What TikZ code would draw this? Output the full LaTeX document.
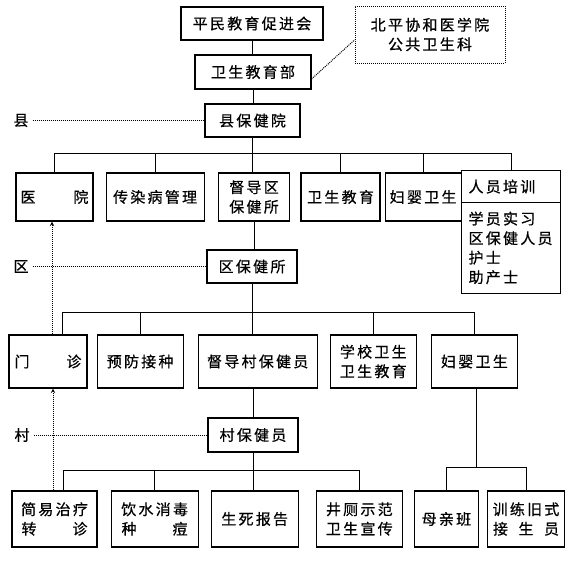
\documentclass[tikz,border=0pt]{standalone}
\usepackage{fontspec}
\setmainfont{Noto Sans CJK SC}[LetterSpace=15,FakeBold=0.6]
\usepackage{tikz}
\usetikzlibrary{shapes,arrows,positioning}

\newcommand{\spreadtxt}[2]{\makebox[#1][s]{#2}}

\begin{document}
\begin{tikzpicture}[
    x=1pt, y=-1pt,
    box/.style={rectangle, draw, line width=1.1pt, inner sep=0pt, align=center, minimum width=#1, font=\fontsize{15}{19.5}\selectfont},
    box/.default=90pt,
    mid/.style={box=#1, minimum height=33pt},
    rowa/.style={box=#1, minimum height=48pt},
    rowb/.style={box=#1, minimum height=53pt},
    rowc/.style={box=#1, minimum height=56pt},
    lvl/.style={inner sep=4pt, font=\fontsize{15}{18}\selectfont},
    ln/.style={line width=1pt},
    dotl/.style={line width=1pt, densely dotted},
    dotarr/.style={dotl, ->, >=stealth},
]
    \useasboundingbox (0,0) rectangle (574,565);

    % Top chain
    \node[mid=142pt] (pmj) at (252,23.5) {平民教育促进会};
    \node[mid=116pt, minimum height=34pt] (wsjyb) at (253,72) {卫生教育部};
    \node[box=150pt, minimum height=57pt, dotl] (xh) at (430,34.5) {北平协和医学院\\公共卫生科};
    \node[mid=95pt] (xbjy) at (252.5,120.5) {县保健院};

    % Level labels
    \node[lvl] (lx) at (21,120.5) {县};
    \node[lvl] (lq) at (21,266.5) {区};
    \node[lvl] (lc) at (22,435) {村};

    % Row 1: county level
    \node[rowa=77pt] (yy) at (54.5,197) {\spreadtxt{68pt}{医\hfill 院}};
    \node[rowa=98pt, right=12pt of yy]  (crb)  {传染病管理};
    \node[rowa=71pt, right=13pt of crb, line width=1.8pt] (ddq) {督导区\\保健所};
    \node[rowa=79pt, right=10pt of ddq] (wsjy) {卫生教育};
    \node[rowa=76pt, right=4pt of wsjy] (fya)  {妇婴卫生};
    \node[box, rectangle split, rectangle split parts=2, text width=85pt, align=left,
          inner xsep=7pt, inner ysep=8.5pt, anchor=north west] (rypx) at (461,170)
          {人员培训\nodepart{second}学员实习\\区保健人员\\护士\\助产士};

    \node[mid=90pt] (qbjs) at (252,266.5) {区保健所};

    % Row 2: district level
    \node[rowb=78pt] (mz) at (48,361.5) {\spreadtxt{67pt}{门\hfill 诊}};
    \node[rowb=86pt, right=9pt of mz]    (yfjz) {预防接种};
    \node[rowb=119pt, right=14pt of yfjz] (ddc) {督导村保健员};
    \node[rowb=86pt, right=12pt of ddc]  (xxws) {学校卫生\\卫生教育};
    \node[rowb=86pt, right=14pt of xxws] (fyb)  {妇婴卫生};

    \node[mid=90pt, minimum height=34pt] (cbjy) at (253,435) {村保健员};

    % Row 3: village level
    \node[rowc=85pt] (jyzl) at (54.5,519) {简易治疗\\\spreadtxt{66pt}{转\hfill 诊}};
    \node[rowc=87pt, right=13pt of jyzl] (ysxd) {饮水消毒\\\spreadtxt{66pt}{种\hfill 痘}};
    \node[rowc=87pt, right=12pt of ysxd] (sbg)  {生死报告};
    \node[rowc=86pt, right=17pt of sbg]  (jcsf) {井厕示范\\卫生宣传};
    \node[rowc=64pt, right=11pt of jcsf] (mqb)  {母亲班};
    \node[rowc=77pt, right=8pt of mqb]   (xljs) {训练旧式\\\spreadtxt{66pt}{接\hfill 生\hfill 员}};

    % Bus points
    \coordinate (busa) at (252,153);
    \coordinate (busb) at (253,312);
    \coordinate (busc) at (253,470);
    \coordinate (busd) at (476,467);

    % Solid connectors
    \draw[ln] (pmj.south) -- (pmj.south |- wsjyb.north);
    \draw[ln] (wsjyb.south) -- (wsjyb.south |- xbjy.north);
    \draw[ln] (xbjy.south) -- (xbjy.south |- ddq.north);
    \foreach \n in {yy,crb,wsjy,fya,rypx} {
        \draw[ln] (\n.north) |- (busa);
    }
    \draw[ln] (ddq.south) -- (ddq.south |- qbjs.north);
    \draw[ln] (qbjs.south) -- (qbjs.south |- ddc.north);
    \draw[ln] ([xshift=14pt]mz.north) |- (busb);
    \foreach \n in {yfjz,xxws,fyb} {
        \draw[ln] (\n.north) |- (busb);
    }
    \draw[ln] (ddc.south -| cbjy.north) -- (cbjy.north);
    \draw[ln] (cbjy.south) -- (cbjy.south |- sbg.north);
    \draw[ln] ([xshift=8.5pt]jyzl.north) |- (busc);
    \foreach \n in {ysxd,jcsf} {
        \draw[ln] (\n.north) |- (busc);
    }
    \draw[ln] (fyb.south -| busd) -- (busd);
    \foreach \n in {mqb,xljs} {
        \draw[ln] (\n.north) |- (busd);
    }

    % Dotted links
    \draw[dotl] ([yshift=-7pt]wsjyb.east) -- ([yshift=-5.5pt]xh.west);
    \draw[dotl] (lx.east) -- (xbjy.west);
    \draw[dotl] (lq.east) -- (qbjs.west);
    \draw[dotl] (lc.east) -- (cbjy.west);
    \draw[dotarr] ([xshift=4pt]mz.north) -- ([xshift=-2.5pt]yy.south);
    \draw[dotarr] ([xshift=-1.5pt]jyzl.north) -- ([xshift=5pt]mz.south);

\end{tikzpicture}
\end{document}
